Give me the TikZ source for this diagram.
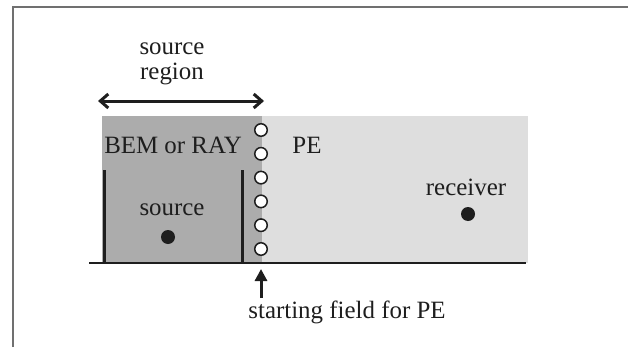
\documentclass[tikz,border=0pt]{standalone}
\usepackage{fontspec}
\setmainfont{Liberation Serif}
\usetikzlibrary{arrows.meta}

\definecolor{darkzone}{RGB}{172,172,172}
\definecolor{lightzone}{RGB}{222,222,222}
\definecolor{framegray}{RGB}{112,112,112}
\definecolor{ink}{RGB}{30,30,30}

\tikzset{
  lbl/.style={font=\fontsize{25}{26}\selectfont,text=ink,inner sep=0pt},
  bar/.style={line width=3bp,draw=ink},
  pt/.style={circle,fill=ink,minimum size=14bp,inner sep=0pt},
  ring/.style={circle,draw=ink,fill=white,line width=1.5bp,minimum size=12.5bp,inner sep=0pt}
}

\begin{document}
\begin{tikzpicture}[x=1bp,y=1bp]
\useasboundingbox (0,0) rectangle (628,347);

% outer frame (cropped)
\draw[framegray,line width=2bp] (12.5,0)--(12.5,340)--(628,340);

% zones
\fill[darkzone] (102,84) rectangle (262,231);
\fill[lightzone] (262,84) rectangle (528,231);

% ground and source walls
\draw[line width=1.8bp,ink] (89,84)--(526,84);
\draw[bar] (104,84)--(104,177);
\draw[bar] (242,84)--(242,177);

% starting field points
\foreach \k in {0,...,5}{
  \node[ring] (f\k) at (261,217-23.8*\k) {};
}

% labels
\node[lbl,align=center] (srcreg) at (172,283) {source\\[-1pt]region};
\node[lbl] (bem) at (173,202) {BEM or RAY};
\node[lbl] (pe) at (307,202) {PE};
\node[lbl] (src) at (172,137) {source};
\node[pt] (srcdot) at (168,110) {};
\node[lbl] (rcv) at (466,160) {receiver};
\node[pt] (rcvdot) at (468,133) {};
\node[lbl] (start) at (347,35) {starting field for PE};

% arrows
\coordinate (regL) at (98,246);
\coordinate (regR) at (264,246);
\draw[line width=3bp,ink,{Straight Barb[length=8bp,width=14bp]}-{Straight Barb[length=8bp,width=14bp]}] (regL)--(regR);

\coordinate (tail) at (261,49);
\coordinate (tip) at (261,78);
\draw[line width=3bp,ink,-{Triangle[length=12bp,width=12bp]}] (tail)--(tip);

\end{tikzpicture}
\end{document}
